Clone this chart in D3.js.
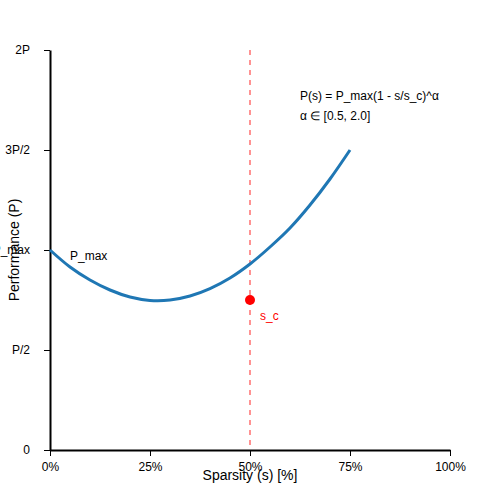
<!DOCTYPE html><html><head><meta charset="utf-8"><script src="https://d3js.org/d3.v7.min.js"></script>
<style>body{margin:0;background:#fff}text{font-family:"Liberation Sans",Arial,sans-serif}</style></head><body><svg width="500" height="500"></svg>
<script>
const sparsity=[0,0.05,0.10,0.15,0.20,0.25,0.30,0.35,0.40,0.45,0.50,0.55,0.60,0.65,0.70,0.75];
const perf=[1.0,0.915,0.85,0.80,0.765,0.748,0.75,0.77,0.807,0.86,0.93,1.015,1.11,1.225,1.355,1.5];
const xTicks=[0,0.25,0.5,0.75,1.0];
const xTickLabels=["0%","25%","50%","75%","100%"];
const yTicks=[0,0.5,1,1.5,2];
const yTickLabels=["0","P/2","P_max","3P/2","2P"];
const critical={s:0.5,p:0.75};
const svg=d3.select("svg");
const x=d3.scaleLinear().domain([0,1]).range([50,450]);
const y=d3.scaleLinear().domain([0,2]).range([450,50]);
svg.append("g").attr("transform","translate(0,450)").call(d3.axisBottom(x).tickValues(xTicks).tickFormat((d,i)=>xTickLabels[i]).tickSizeOuter(0).tickPadding(6))
 .call(g=>{g.select(".domain").attr("stroke-width",2);g.selectAll("text").attr("font-size",12).attr("fill","#000");});
svg.append("g").attr("transform","translate(50,0)").call(d3.axisLeft(y).tickValues(yTicks).tickFormat((d,i)=>yTickLabels[i]).tickSizeOuter(0).tickPadding(14))
 .call(g=>{g.select(".domain").attr("stroke-width",2);g.selectAll("text").attr("font-size",12).attr("fill","#000");});
svg.append("line").attr("x1",x(critical.s)).attr("x2",x(critical.s)).attr("y1",y(2)).attr("y2",y(0))
 .attr("stroke","#ff5555").attr("stroke-dasharray","5,5").attr("stroke-width",1.5).attr("opacity",0.85);
svg.append("path").datum(sparsity.map((s,i)=>[s,perf[i]])).attr("fill","none").attr("stroke","#1f77b4").attr("stroke-width",3)
 .attr("d",d3.line().x(d=>x(d[0])).y(d=>y(d[1])).curve(d3.curveCatmullRom));
svg.append("circle").attr("cx",x(critical.s)).attr("cy",y(critical.p)).attr("r",5).attr("fill","red");
svg.append("text").attr("x",x(critical.s)+10).attr("y",y(critical.p)+20).attr("fill","red").attr("font-size",12).text("s_c");
svg.append("text").attr("x",70).attr("y",260).attr("font-size",12).text("P_max");
svg.append("text").attr("x",300).attr("y",100).attr("font-size",12).text("P(s) = P_max(1 - s/s_c)^α");
svg.append("text").attr("x",300).attr("y",120).attr("font-size",12).text("α ∈ [0.5, 2.0]");
svg.append("text").attr("x",250).attr("y",480).attr("text-anchor","middle").attr("font-size",14).text("Sparsity (s) [%]");
svg.append("text").attr("transform","translate(19,250) rotate(-90)").attr("text-anchor","middle").attr("font-size",14).text("Performance (P)");
</script></body></html>
